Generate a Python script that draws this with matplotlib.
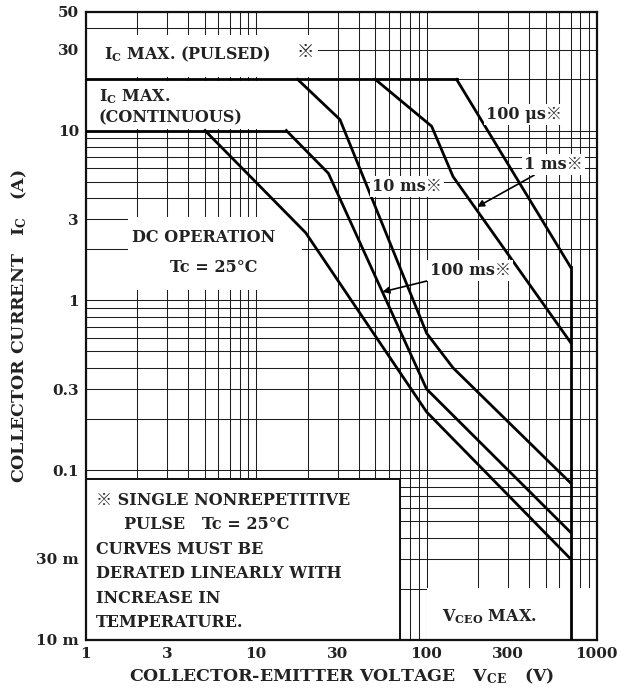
import matplotlib
matplotlib.use("Agg")
import matplotlib.pyplot as plt
from matplotlib.patches import Rectangle
from matplotlib.ticker import LogLocator, NullFormatter, FixedLocator, FixedFormatter

plt.rcParams['font.family'] = ['DejaVu Serif', 'Noto Sans CJK JP']
plt.rcParams['font.weight'] = 'bold'
plt.rcParams['axes.labelweight'] = 'bold'
plt.rcParams['mathtext.fontset'] = 'custom'
plt.rcParams['mathtext.rm'] = 'DejaVu Serif:bold'
plt.rcParams['mathtext.default'] = 'rm'

# safe operating area, V_CE (V) vs I_C (A)
ic_pulsed_v = [1, 150]
ic_pulsed_a = [20, 20]
ic_cont_v = [1, 15]
ic_cont_a = [10, 10]

us100_v = [150, 700]
us100_a = [20, 1.57]
ms1_v = [50, 107, 143, 700]
ms1_a = [20, 10.6, 5.35, 0.565]
ms10_v = [17.5, 31, 100, 143, 700]
ms10_a = [20, 11.6, 0.64, 0.40, 0.084]
ms100_v = [15, 26.5, 100, 700]
ms100_a = [10, 5.6, 0.30, 0.043]
dc_v = [5, 19.5, 100, 700]
dc_a = [10, 2.5, 0.22, 0.030]

vceo_v = [700, 700]
vceo_a = [1.57, 0.01]

xticks = [1, 3, 10, 30, 100, 300, 1000]
xlabels = ['1', '3', '10', '30', '100', '300', '1000']
yticks = [0.01, 0.03, 0.1, 0.3, 1, 3, 10, 30, 50]
ylabels = ['10 m', '30 m', '0.1', '0.3', '1', '3', '10', '30', '50']

fig = plt.figure(figsize=(6.32, 6.97), dpi=100)
ax = fig.add_axes([0.136, 0.082, 0.8085, 0.901])
ax.set_xscale('log')
ax.set_yscale('log')
ax.set_xlim(1, 1000)
ax.set_ylim(0.01, 50)
ax.set_axisbelow(True)

ax.xaxis.set_major_locator(FixedLocator(xticks))
ax.xaxis.set_major_formatter(FixedFormatter(xlabels))
ax.yaxis.set_major_locator(FixedLocator(yticks))
ax.yaxis.set_major_formatter(FixedFormatter(ylabels))
ax.xaxis.set_minor_locator(LogLocator(base=10, subs=range(1, 10)))
ax.yaxis.set_minor_locator(LogLocator(base=10, subs=range(1, 10)))
ax.xaxis.set_minor_formatter(NullFormatter())
ax.yaxis.set_minor_formatter(NullFormatter())
ax.tick_params(which='both', length=0, labelsize=11, pad=5, labelcolor='#222222')
ax.grid(which='both', color='#1e1e1e', lw=0.75)

for s in ax.spines.values():
    s.set_linewidth(1.6)
    s.set_color('#111111')

# white areas behind the labels (the printed chart blanks the grid there)
white = dict(facecolor='white', edgecolor='none', zorder=1)
ax.add_patch(Rectangle((1, 20.6), 22, 16, **white))
ax.add_patch(Rectangle((1, 10.25), 17, 9.3, **white))
ax.add_patch(Rectangle((1.76, 1.15), 16.7, 1.95, **white))
ax.add_patch(Rectangle((100, 0.01), 900, 0.0102, **white))
ax.add_patch(Rectangle((1, 0.01), 69, 0.078, facecolor='white',
                       edgecolor='#111111', lw=1.4, zorder=1))

lk = dict(color='black', lw=2.0, zorder=3, solid_joinstyle='miter')
ax.plot(ic_pulsed_v, ic_pulsed_a, **lk)
ax.plot(ic_cont_v, ic_cont_a, **lk)
ax.plot(us100_v, us100_a, **lk)
ax.plot(ms1_v, ms1_a, **lk)
ax.plot(ms10_v, ms10_a, **lk)
ax.plot(ms100_v, ms100_a, **lk)
ax.plot(dc_v, dc_a, **lk)
ax.plot(vceo_v, vceo_a, **lk)

fs = 11.5
tc = '#222222'
ax.text(1.27, 28.2, 'I$_{C}$ MAX. (PULSED)', fontsize=fs, va='center', zorder=4, color=tc)
ax.text(17.3, 28.8, '※', fontsize=fs + 1, va='center', zorder=4, color=tc)
ax.text(1.19, 15.9, 'I$_{C}$ MAX.', fontsize=fs, va='center', zorder=4, color=tc)
ax.text(1.19, 11.8, '(CONTINUOUS)', fontsize=fs, va='center', zorder=4, color=tc)
ax.text(1.86, 2.33, 'DC OPERATION', fontsize=fs, va='center', zorder=4, color=tc)
ax.text(3.11, 1.55, 'Tc = 25°C', fontsize=fs, va='center', zorder=4, color=tc)

wb = dict(facecolor='white', edgecolor='none', pad=1.5)
ax.text(224, 12.4, '100 μs※', fontsize=fs, va='center', zorder=4, bbox=wb, color=tc)
ax.text(48, 4.67, '10 ms※', fontsize=fs, va='center', zorder=4, bbox=wb, color=tc)
arr = dict(arrowstyle='-|>', color='black', lw=1.2, mutation_scale=10,
           shrinkA=0, shrinkB=0)
ax.annotate('1 ms※', xy=(198, 3.55), xytext=(372, 6.3), fontsize=fs,
            va='center', ha='left', zorder=4, bbox=wb, arrowprops=arr, color=tc)
ax.annotate('100 ms※', xy=(55, 1.12), xytext=(104, 1.5), fontsize=fs,
            va='center', ha='left', zorder=4, bbox=wb, arrowprops=arr, color=tc)

ax.text(123, 0.0137, 'V$_{CEO}$ MAX.', fontsize=fs, va='center', zorder=4, color=tc)

note = ('※ SINGLE NONREPETITIVE\n'
        '     PULSE   Tc = 25°C\n'
        'CURVES MUST BE\n'
        'DERATED LINEARLY WITH\n'
        'INCREASE IN\n'
        'TEMPERATURE.')
ax.text(1.14, 0.0745, note, fontsize=fs, va='top', ha='left',
        linespacing=1.58, zorder=4, color=tc)

ax.set_xlabel('COLLECTOR-EMITTER VOLTAGE   V$_{CE}$   (V)', fontsize=12.5,
              labelpad=4, color=tc)
ax.set_ylabel('COLLECTOR CURRENT   I$_{C}$   (A)', fontsize=12.5, labelpad=5, color=tc)

fig.savefig('out.png', dpi=100)
